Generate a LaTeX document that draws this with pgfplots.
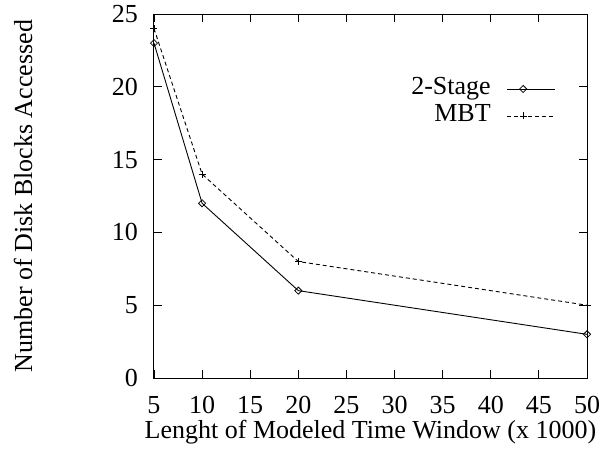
\documentclass[border=0pt]{standalone}
\usepackage{pgfplots}
\pgfplotsset{compat=1.18}
\usepackage{fontspec}
\setmainfont{Liberation Serif}
\newcommand{\ff}{\fontsize{26}{30}\selectfont}
\begin{document}
\begin{tikzpicture}
\begin{axis}[
  scale only axis,
  width=433pt, height=364pt,
  xmin=5, xmax=50, ymin=0, ymax=25,
  xtick={5,10,15,20,25,30,35,40,45,50},
  ytick={0,5,10,15,20,25},
  tick align=inside,
  tick pos=both,
  major tick length=8pt,
  axis line style={line width=1pt},
  every tick/.style={black, line width=0.8pt},
  /pgf/number format/assume math mode=true,
  tick label style={font=\ff},
  label style={font=\ff},
  xticklabel style={anchor=base, yshift=-35pt},
  yticklabel style={anchor=east, inner sep=0pt, xshift=-16pt},
  xlabel={Lenght of Modeled Time Window (x 1000)},
  ylabel={Number of Disk Blocks Accessed},
  xlabel style={at={(axis description cs:0.5,-0.165)}, anchor=base},
  ylabel style={at={(axis description cs:-0.3025,0.5)}, anchor=center},
  legend plot pos=right,
  legend cell align=right,
  legend style={draw=none, fill=none, font=\ff, at={(axis description cs:0.928,0.757)}, anchor=east,
    inner sep=0pt, column sep=16pt, row sep=3pt,
    nodes={inner sep=0pt, text height=18pt, text depth=6pt}},
  legend image code/.code={\draw[mark repeat=2,mark phase=2,#1] plot coordinates {(0pt,0pt)(16pt,0pt)(48pt,0pt)};},
]
\addplot[black, line width=0.9pt, mark=square, mark size=2.5pt, mark options={solid, rotate=45, line width=0.8pt, fill=white}]
  coordinates {(5,23) (10,12) (20,6) (50,3)};
\addlegendentry{2-Stage}
\addplot[black, line width=0.9pt, dash pattern=on 4pt off 3pt, mark=+, mark size=3.5pt, mark options={solid, line width=0.8pt}]
  coordinates {(5,24) (10,14) (20,8) (50,5)};
\addlegendentry{MBT}
\end{axis}
\path (current axis.south west) ++(-154pt,-73pt) rectangle ++(605pt,451pt);
\end{tikzpicture}
\end{document}
